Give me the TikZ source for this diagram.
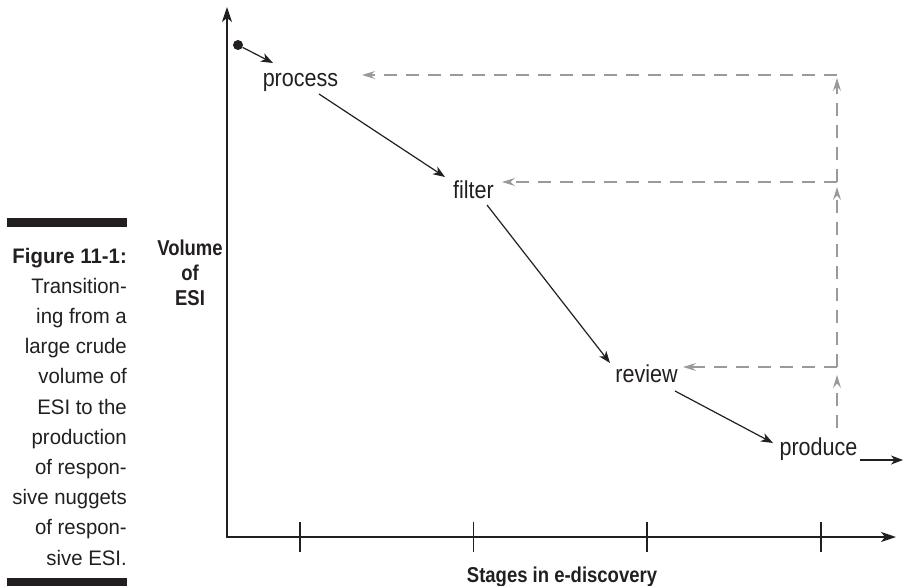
\documentclass[tikz,border=0pt]{standalone}
\usepackage{fontspec}
\setmainfont{Liberation Sans}
\newfontfamily\lblfont[FakeStretch=0.88]{Liberation Sans}
\newfontfamily\capfont[FakeStretch=0.97]{Liberation Sans}
\newfontfamily\axfont[FakeStretch=0.86]{Liberation Sans}
\usetikzlibrary{arrows.meta,calc}
\definecolor{ink}{HTML}{231F20}
\definecolor{retgray}{HTML}{9A9A9C}
\begin{document}
\begin{tikzpicture}[x=1pt,y=-1pt,
  inkline/.style={draw=ink, line width=1.2pt},
  flow/.style={inkline, -{Stealth[length=12pt,width=9pt,inset=3.5pt]}},
  retline/.style={draw=retgray, line width=1.2pt, dash pattern=on 13pt off 9pt},
  ret/.style={retline, -{Stealth[length=13pt,width=8pt,inset=4.5pt]}},
  axisline/.style={draw=ink, line width=1.4pt},
  stage/.style={font=\lblfont\fontsize{24.5}{28}\selectfont, text=ink, inner sep=0pt, anchor=base},
  axislbl/.style={font=\axfont\bfseries\fontsize{21.5}{25}\selectfont, text=ink, inner sep=0pt},
  capstyle/.style={font=\capfont\fontsize{21}{30.2}\selectfont, text=ink, inner sep=0pt},
]
\useasboundingbox (0,0) rectangle (905,586);

% caption column with its two bars (multi-line nodes sit on their last baseline)
\fill[ink] (7,218) rectangle (127,227);
\fill[ink] (7,578) rectangle (127,587);
\node[capstyle, align=right, anchor=base east] (caption) at (127,565)
  {{\bfseries Figure 11-1:}\\Transition-\\ing from a\\large crude\\volume of\\ESI to the\\production\\of respon-\\sive nuggets\\of respon-\\sive ESI.};

% axes
\coordinate (origin) at (227,537);
\coordinate (ytop) at (227,7);
\coordinate (xend) at (896,537);
\draw[axisline, {Stealth[length=15pt,width=10pt,inset=4pt]}-{Stealth[length=15pt,width=10pt,inset=4pt]}]
  (ytop) -- (origin) -- (xend);
\foreach \tx in {300,473.5,647,821}
  \draw[inkline] (\tx,522) -- (\tx,552);

\node[axislbl, align=center, anchor=base] (ylabel) at (190,305) {Volume\\of\\ESI};
\node[axislbl, anchor=base] (xlabel) at (562,582) {Stages in e-discovery};

% stages
\node[stage] (process) at (300.5,87) {process};
\node[stage] (filter) at (473.5,198) {filter};
\node[stage] (review) at (646.5,382) {review};
\node[stage] (produce) at (818.5,455) {produce};
\node[circle, fill=ink, inner sep=0pt, minimum size=10pt] (start) at (238,45) {};
\coordinate (out) at (903,460);

\draw[flow] (start) -- ($(process.base)+(-27.5,-24)$);
\draw[flow] ($(process.base)+(18.5,7)$) -- ($(filter.base)+(-28.5,-21)$);
\draw[flow] ($(filter.base)+(13.5,7)$) -- ($(review.base)+(-36.5,-19)$);
\draw[flow] ($(review.base)+(28.5,9)$) -- ($(produce.base)+(-45.5,-12)$);
\draw[flow] ($(produce.base)+(41.5,5)$) -- (out);

% feedback loop
\coordinate (rbot) at (837,428);
\coordinate (j3) at (837,367);
\coordinate (j2) at (837,182);
\coordinate (j1) at (837,75);
\draw[ret] (rbot) -- ($(j3)+(0,8)$);
\draw[ret] (j3) -- ($(j2)+(0,5)$);
\draw[ret] (j2) -- ($(j1)+(0,3)$);
\draw[ret] (j3) -- ($(review.base)+(36.5,-15)$);
\draw[ret] (j2) -- ($(filter.base)+(28.5,-16)$);
\draw[ret] (j1) -- ($(process.base)+(61.5,-12)$);
\end{tikzpicture}
\end{document}
